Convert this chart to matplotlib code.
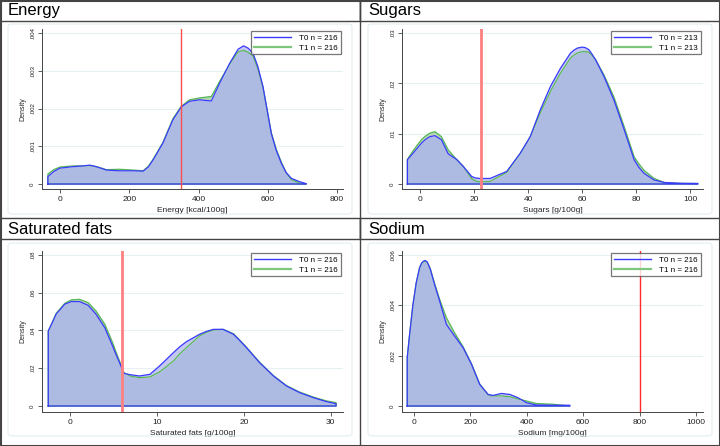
import matplotlib
matplotlib.use("Agg")
import matplotlib.pyplot as plt
import numpy as np
from matplotlib.lines import Line2D
from matplotlib.patches import Rectangle, FancyBboxPatch

plt.rcParams['font.family'] = ['Liberation Sans', 'DejaVu Sans']

# ---------------- data ----------------
energy_x = [-35, -18, 0, 38, 66, 86, 105, 134, 172, 211, 240, 255, 269, 297, 326, 350, 374, 403,
            437, 461, 490, 514, 530, 543, 557, 571, 586, 598, 610, 624, 639, 653, 668, 692, 711]
energy_t0 = [0.000195, 0.00033, 0.00042, 0.00046, 0.00048, 0.0005, 0.00046, 0.00037, 0.00035,
             0.00035, 0.00034, 0.00045, 0.00064, 0.00108, 0.0017, 0.00204, 0.00219, 0.00223,
             0.0022, 0.00267, 0.0032, 0.00357, 0.00366, 0.0036, 0.00347, 0.00312, 0.00258,
             0.00196, 0.00134, 0.0009, 0.00055, 0.0003, 0.00015, 0.00006, 0.00001]
energy_t1 = [0.000265, 0.00038, 0.00045, 0.00048, 0.00048, 0.00049, 0.00046, 0.00038, 0.00039,
             0.00037, 0.00035, 0.00047, 0.00066, 0.0011, 0.00173, 0.00206, 0.00223, 0.00228,
             0.00232, 0.00272, 0.00318, 0.0035, 0.00354, 0.00349, 0.0034, 0.00306, 0.00256,
             0.00196, 0.00136, 0.00093, 0.00058, 0.0003, 0.00012, 0.00002, 0.0]

sugars_x = [-4.7, -2.6, 0.5, 1.9, 3.6, 5.5, 7.9, 10.4, 13.5, 16.0, 19.1, 20.5, 22.2, 25.9, 32.1,
            37.1, 40.8, 44.5, 48.3, 52.0, 55.7, 57.0, 58.2, 60.0, 61.2, 62.5, 63.7, 65.0, 68.1,
            71.8, 75.6, 79.3, 81.2, 83.0, 86.7, 90.4, 96.7, 102.9]
sugars_t0 = [0.0048, 0.0061, 0.0081, 0.0088, 0.0094, 0.0096, 0.0088, 0.006, 0.0049, 0.0035,
             0.0015, 0.0012, 0.0011, 0.0011, 0.0025, 0.0061, 0.0094, 0.0147, 0.0194, 0.023,
             0.026, 0.0266, 0.027, 0.0272, 0.0271, 0.0267, 0.0258, 0.0247, 0.0214, 0.0167,
             0.0108, 0.0048, 0.0032, 0.0021, 0.0008, 0.0003, 0.00013, 0.0001]
sugars_t1 = [0.0049, 0.0066, 0.0088, 0.0095, 0.0101, 0.0104, 0.0094, 0.0068, 0.0049, 0.0035,
             0.0011, 0.0006, 0.0004, 0.0005, 0.0023, 0.0061, 0.0094, 0.0141, 0.0184, 0.022,
             0.025, 0.0256, 0.026, 0.0263, 0.0263, 0.0262, 0.0256, 0.0247, 0.0217, 0.0173,
             0.0114, 0.0054, 0.0039, 0.0027, 0.0011, 0.0003, 0.00013, 0.0001]

satfat_x = [-2.5, -2.0, -1.6, -0.6, 0.15, 1.1, 2.1, 3.0, 4.0, 4.9, 5.3, 5.7, 6.2, 6.9, 8.0, 9.2,
            10.3, 11.9, 12.6, 13.4, 14.9, 15.7, 16.5, 17.6, 18.8, 19.5, 20.3, 21.8, 23.4, 24.9,
            26.4, 28.0, 29.5, 30.6]
satfat_t0 = [0.0397, 0.0445, 0.0486, 0.0539, 0.0553, 0.0553, 0.0533, 0.0486, 0.0415, 0.0318,
             0.0272, 0.023, 0.0173, 0.0166, 0.0159, 0.0168, 0.0212, 0.0283, 0.0313, 0.0341,
             0.038, 0.0395, 0.0406, 0.0406, 0.038, 0.0348, 0.0309, 0.023, 0.0159, 0.0106,
             0.0071, 0.0044, 0.0023, 0.0012]
satfat_t1 = [0.0397, 0.0447, 0.049, 0.0544, 0.0562, 0.0565, 0.0547, 0.0503, 0.0433, 0.0336,
             0.0285, 0.0238, 0.0177, 0.0159, 0.015, 0.0154, 0.018, 0.0238, 0.0275, 0.0309,
             0.0371, 0.039, 0.0403, 0.0406, 0.0383, 0.035, 0.0311, 0.0232, 0.0161, 0.0108,
             0.0074, 0.0047, 0.0027, 0.0018]

sodium_x = [-24, -15, -9, -4, 2, 8, 14, 20, 27, 34, 40, 46, 52, 58, 65, 73, 91, 115, 144, 174,
            204, 233, 263, 280, 310, 340, 369, 399, 434, 493, 553]
sodium_t0 = [0.00192, 0.0029, 0.0035, 0.004, 0.00445, 0.0049, 0.0052, 0.0055, 0.00568, 0.00576,
             0.00578, 0.00574, 0.0056, 0.00543, 0.00515, 0.00483, 0.00417, 0.00324, 0.00278,
             0.00232, 0.00166, 0.00086, 0.00046, 0.00042, 0.0005, 0.00046, 0.00033, 0.00013,
             0.00004, 0.00003, 0.00003]
sodium_t1 = [0.00192, 0.0029, 0.0035, 0.004, 0.00445, 0.0049, 0.0052, 0.0055, 0.00566, 0.00574,
             0.00575, 0.00572, 0.0056, 0.00545, 0.00518, 0.00488, 0.00424, 0.00351, 0.00291,
             0.00236, 0.00168, 0.00088, 0.00044, 0.0004, 0.0004, 0.00037, 0.00028, 0.0002,
             0.0001, 0.00007, 0.0]

titles = ["Energy", "Sugars", "Saturated fats", "Sodium"]
xlabels = ["Energy [kcal/100g]", "Sugars [g/100g]", "Saturated fats [g/100g]", "Sodium [mg/100g]"]
thresholds = [350, 22.5, 6, 800]
n_t0 = [216, 213, 216, 216]
n_t1 = [216, 213, 216, 216]
xticks = [[0, 200, 400, 600, 800], [0, 20, 40, 60, 80, 100], [0, 10, 20, 30],
          [0, 200, 400, 600, 800, 1000]]
yticks = [[0, 0.001, 0.002, 0.003, 0.004], [0, 0.01, 0.02, 0.03],
          [0, 0.02, 0.04, 0.06, 0.08], [0, 0.002, 0.004, 0.006]]
ytlabels = [["0", ".001", ".002", ".003", ".004"], ["0", ".01", ".02", ".03"],
            ["0", ".02", ".04", ".06", ".08"], ["0", ".002", ".004", ".006"]]

panels = [
    (energy_x, energy_t0, energy_t1),
    (sugars_x, sugars_t0, sugars_t1),
    (satfat_x, satfat_t0, satfat_t1),
    (sodium_x, sodium_t0, sodium_t1),
]

# ---------------- layout ----------------
W, H = 720, 446
fig = plt.figure(figsize=(W / 100, H / 100), dpi=100)
fig.patch.set_facecolor("white")

def frect(L, T, R, B):
    return [L / W, 1 - B / H, (R - L) / W, (B - T) / H]

axes_px = [(42, 29, 343, 189), (402, 29, 703, 189), (42, 251, 343, 412), (402, 251, 703, 412)]
xlims = [(-52, 817), (-6.7, 104.8), (-3.22, 31.4), (-42.5, 1025)]
ylims = [(-0.000132, 0.004106), (-0.000993, 0.0308), (-0.00318, 0.0821), (-0.000238, 0.00616)]
title_px = [(0, 0, 360, 21), (360, 0, 720, 21), (0, 218, 360, 239), (360, 218, 720, 239)]
inner_px = [(8, 24, 352, 214), (368, 24, 712, 214), (8, 243, 352, 436), (368, 243, 712, 436)]
red_styles = [dict(color="#ff4d4d", lw=1.0), dict(color="#ff7f7f", lw=2.0),
              dict(color="#ff8080", lw=2.0), dict(color="#ff2a2a", lw=1.0)]

col_overlap = "#adbbe3"
col_t0only = "#c5c7f3"
col_t1only = "#b6d6b3"
col_t0 = "#3a3aff"
col_t1 = "#56b656"
edge = "#444444"

# inner faint graph region frames
for (L, T, R, B) in inner_px:
    fig.add_artist(FancyBboxPatch((L / W, 1 - B / H), (R - L) / W, (B - T) / H,
                                  boxstyle="round,pad=0,rounding_size=0.006",
                                  transform=fig.transFigure, fill=False,
                                  edgecolor="#e3ecef", lw=0.8))

for i, (xs, t0, t1) in enumerate(panels):
    ax = fig.add_axes(frect(*axes_px[i]))
    ax.set_facecolor("none")
    x = np.array(xs)
    y0 = np.array(t0)
    y1 = np.array(t1)
    lo = np.minimum(y0, y1)
    ax.fill_between(x, 0, lo, color=col_overlap, lw=0, zorder=2)
    ax.fill_between(x, y1, y0, where=y0 >= y1, interpolate=True, color=col_t0only, lw=0, zorder=2)
    ax.fill_between(x, y0, y1, where=y1 >= y0, interpolate=True, color=col_t1only, lw=0, zorder=2)
    # outlines (closed area outline)
    ox = np.concatenate([[x[0]], x, [x[-1], x[0]]])
    oy1 = np.concatenate([[0], y1, [0, 0]])
    oy0 = np.concatenate([[0], y0, [0, 0]])
    ax.plot(ox, oy1, color=col_t1, lw=0.9, zorder=3)
    ax.plot(ox, oy0, color=col_t0, lw=0.9, zorder=4)
    ax.axvline(thresholds[i], zorder=5, **red_styles[i])

    ax.set_xlim(*xlims[i])
    ax.set_ylim(*ylims[i])
    ax.set_xticks(xticks[i])
    ax.set_yticks(yticks[i])
    ax.set_yticklabels(ytlabels[i], rotation=90, va="center")
    ax.tick_params(axis="x", labelsize=6, length=3, width=0.6, color=edge, pad=2, labelcolor="#222")
    ax.tick_params(axis="y", labelsize=4.4, length=3, width=0.6, color=edge, pad=2, labelcolor="#222")
    for s in ["top", "right"]:
        ax.spines[s].set_visible(False)
    for s in ["left", "bottom"]:
        ax.spines[s].set_color(edge)
        ax.spines[s].set_linewidth(0.7)
    for yt in yticks[i][1:]:
        ax.axhline(yt, color="#e6eff1", lw=0.8, zorder=0)
    ax.set_xlabel(xlabels[i], fontsize=6, labelpad=3, color="#222")
    ax.set_ylabel("Density", fontsize=5, labelpad=3, color="#222")

    leg_handles = [Line2D([0], [0], color=col_t0, lw=1.0),
                   Line2D([0], [0], color="#7dc87d", lw=1.6)]
    leg = ax.legend(leg_handles, [f"T0 n = {n_t0[i]}", f"T1 n = {n_t1[i]}"],
                    loc="upper right", fontsize=5.8, frameon=True, fancybox=False,
                    handlelength=4.6, handletextpad=1.0, borderpad=0.35, labelspacing=0.25,
                    borderaxespad=0.3)
    leg.get_frame().set_edgecolor("#555555")
    leg.get_frame().set_linewidth(0.9)
    leg.set_zorder(10)

    # title bar
    L, T, R, B = title_px[i]
    fig.add_artist(Rectangle((L / W, 1 - B / H), (R - L) / W, (B - T) / H,
                             transform=fig.transFigure, facecolor="white",
                             edgecolor="#444444", lw=1.0))
    fig.text((L + 8) / W, 1 - ((T + B) / 2 + 0.5) / H, titles[i], fontsize=12,
             va="center", ha="left", color="black")

# panel dividers and outer border
fig.add_artist(Line2D([360 / W, 360 / W], [0, 1], transform=fig.transFigure, color="#444444", lw=1.0))
fig.add_artist(Rectangle((0.5 / W, 0.5 / H), 1 - 1 / W, 1 - 1 / H, transform=fig.transFigure,
                         fill=False, edgecolor="#444444", lw=1.5))

fig.savefig("out.png", dpi=100)
